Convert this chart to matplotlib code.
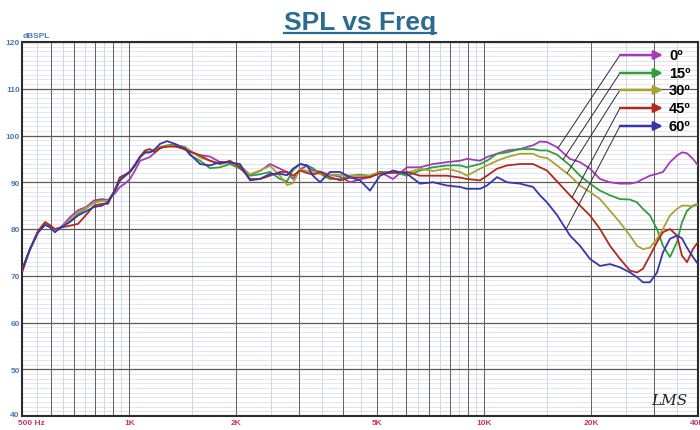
import numpy as np
import matplotlib
matplotlib.use("Agg")
import matplotlib.pyplot as plt
import matplotlib.transforms as mtransforms
from matplotlib.lines import Line2D
from matplotlib.ticker import FixedLocator, NullLocator, FixedFormatter

# ── data ───────────────────────────────────────────────────────────────────
FREQ = [500, 525, 553, 579, 598, 617, 646, 680, 717, 755,
        795, 837, 871, 911, 941, 972, 1004, 1037, 1072, 1107,
        1143, 1181, 1220, 1277, 1345, 1435, 1482, 1582, 1688, 1801,
        1921, 2050, 2187, 2334, 2490, 2657, 2781, 2891, 3026, 3166,
        3292, 3445, 3675, 3922, 4184, 4465, 4764, 5084, 5531, 6057,
        6590, 7170, 7851, 8541, 8938, 9727, 10178, 10860, 11588, 12606,
        13715, 14352, 15019, 16025, 17435, 18605, 19850, 21185, 22605, 24120,
        25735, 26930, 27995, 29295, 30655, 31870, 33350, 34900, 36050, 37245,
        38720, 40000]

SPL_0 = [71.5, 75.7, 79.3, 81.0, 80.4, 79.6, 80.6, 82.5, 84.0, 84.7,
         86.1, 86.4, 86.2, 87.6, 89.0, 89.7, 90.7, 92.5, 94.6, 95.0,
         95.4, 96.4, 97.2, 97.8, 97.6, 97.4, 96.5, 95.8, 95.5, 94.3,
         94.4, 93.5, 91.6, 92.4, 93.9, 92.9, 92.2, 90.7, 92.8, 93.5,
         92.5, 92.3, 91.6, 91.2, 90.0, 90.6, 91.1, 92.2, 90.7, 93.2,
         93.2, 93.9, 94.3, 94.6, 95.0, 94.6, 95.4, 96.1, 96.8, 97.1,
         97.9, 98.7, 98.6, 97.5, 95.0, 94.3, 92.9, 90.7, 90.0, 89.7,
         89.7, 90.0, 90.7, 91.4, 91.8, 92.2, 94.3, 95.7, 96.4, 96.2,
         95.0, 93.6]

SPL_15 = [71.5, 75.7, 79.3, 81.0, 80.4, 79.5, 80.5, 81.8, 83.2, 84.4,
          85.7, 86.1, 86.1, 88.2, 90.6, 91.4, 92.2, 93.6, 95.4, 96.4,
          96.4, 96.9, 97.5, 97.9, 98.1, 97.3, 95.8, 94.6, 93.0, 93.2,
          93.9, 92.9, 91.4, 91.7, 92.2, 90.7, 90.2, 92.6, 93.9, 93.6,
          93.0, 91.8, 90.7, 90.7, 91.4, 91.6, 91.4, 92.2, 92.2, 91.4,
          92.5, 93.2, 93.6, 93.6, 93.2, 93.9, 94.6, 96.1, 96.4, 97.1,
          97.1, 96.8, 96.8, 95.9, 93.6, 91.4, 89.7, 88.2, 87.2, 86.4,
          86.3, 85.7, 84.3, 82.9, 80.0, 76.4, 74.0, 77.2, 81.4, 83.9,
          85.0, 85.4]

SPL_30 = [71.5, 75.7, 79.3, 81.0, 80.4, 79.5, 80.4, 82.0, 83.5, 84.5,
          85.6, 86.0, 86.0, 88.0, 90.5, 91.3, 92.2, 93.5, 95.3, 96.3,
          96.5, 96.8, 97.5, 97.7, 97.9, 97.6, 96.8, 95.3, 94.6, 94.0,
          94.3, 93.4, 91.7, 92.5, 93.5, 91.4, 89.4, 89.8, 92.8, 92.4,
          92.0, 91.8, 91.6, 91.6, 91.4, 91.4, 91.4, 92.0, 92.2, 92.0,
          92.9, 92.4, 92.9, 92.2, 91.4, 92.9, 93.6, 94.6, 95.4, 96.1,
          96.1, 95.4, 95.2, 93.6, 91.4, 89.3, 87.9, 86.4, 83.9, 81.4,
          78.6, 76.4, 75.7, 76.0, 77.9, 80.0, 82.9, 84.3, 85.0, 85.0,
          84.8, 85.2]

SPL_45 = [71.0, 75.7, 79.6, 81.5, 80.8, 80.0, 80.4, 80.7, 81.1, 83.0,
          85.0, 85.4, 85.4, 88.5, 91.1, 91.6, 92.3, 93.8, 95.5, 96.8,
          97.1, 96.4, 97.4, 97.6, 97.7, 97.0, 96.6, 95.7, 94.6, 93.9,
          94.6, 93.2, 90.7, 90.7, 91.4, 92.2, 92.2, 91.4, 92.5, 92.0,
          91.6, 92.2, 91.1, 90.4, 91.0, 91.0, 91.1, 91.9, 92.0, 92.2,
          91.4, 91.4, 91.4, 91.0, 90.7, 90.4, 91.4, 92.9, 93.6, 93.9,
          93.9, 93.2, 92.5, 90.2, 87.2, 85.0, 82.9, 80.0, 76.4, 73.6,
          71.1, 70.7, 71.5, 74.3, 77.2, 79.3, 80.0, 78.6, 74.3, 72.9,
          75.7, 77.2]

SPL_60 = [71.5, 75.7, 79.3, 80.9, 80.4, 79.3, 80.5, 81.5, 82.9, 83.8,
          84.7, 85.0, 85.8, 88.2, 90.4, 91.4, 92.2, 93.6, 95.4, 96.4,
          96.4, 97.1, 98.2, 98.8, 98.2, 97.2, 96.0, 93.9, 93.6, 94.3,
          94.2, 93.9, 90.4, 90.7, 91.8, 91.8, 91.5, 92.9, 93.9, 93.6,
          91.4, 90.0, 92.2, 92.2, 91.1, 90.4, 88.2, 91.4, 92.5, 91.8,
          89.7, 90.0, 89.3, 89.0, 88.6, 88.6, 89.3, 91.1, 90.0, 89.7,
          89.0, 87.2, 85.7, 83.0, 78.6, 76.4, 73.6, 72.1, 72.5, 71.8,
          70.7, 69.7, 68.6, 68.6, 70.7, 75.0, 77.9, 78.6, 78.0, 76.0,
          74.0, 72.5]

LABELS = ["0º", "15º", "30º", "45º", "60º"]
CURVES = [SPL_0, SPL_15, SPL_30, SPL_45, SPL_60]
COLORS = ["#a23cb8", "#2f9e3e", "#a6a432", "#b02a1c", "#3836ac"]
# where each pointer line touches its curve (Hz)
POINT_AT = [16130, 16665, 17100, 17665, 16990]

X_TICKS = [500, 1000, 2000, 5000, 10000, 20000, 40000]
X_TICKLABELS = ["500 Hz", "1K", "2K", "5K", "10K", "20K", "40K"]
Y_TICKS = [40, 50, 60, 70, 80, 90, 100, 110, 120]

# ── figure ───────────────────────────────────────────────────────────────────
fig = plt.figure(figsize=(7.0, 4.31), dpi=100)
fig.patch.set_facecolor("white")
ax = fig.add_axes([22.5 / 700, 14 / 431, 675.5 / 700, 374 / 431])
ax.set_xscale("log")
ax.set_xlim(500, 40000)
ax.set_ylim(40, 120)

# grid: dB lines (light every dB, dark every 10)
for db in range(41, 120):
    if db % 10 == 0:
        continue
    ax.axhline(db, color="#d3e2ef" if db % 2 == 0 else "#f1dde0", lw=0.6, zorder=0)
for db in Y_TICKS:
    ax.axhline(db, color="#5a5a5a", lw=0.9, zorder=1)

# grid: frequency lines
light_f = ([550 + 100 * i for i in range(5)] + [1500, 2500, 3500, 4500]
           + [5500 + 1000 * i for i in range(5)] + [15000, 25000, 35000])
dark_f = [600, 700, 800, 900, 3000, 4000, 6000, 7000, 8000, 9000, 30000,
          1000, 2000, 5000, 10000, 20000]
for f in light_f:
    ax.axvline(f, color="#c6dbeb", lw=0.7, zorder=0)
for f in dark_f:
    ax.axvline(f, color="#666666", lw=0.75, zorder=1)

# curves
for spl, c in zip(CURVES, COLORS):
    ax.plot(FREQ, spl, color=c, lw=1.3, zorder=3, solid_joinstyle="round")

# legend arrows + pointer lines
tail_x, head_x, text_x = 0.8845, 0.948, 0.957
rows_y = [0.9652, 0.9171, 0.8717, 0.8235, 0.7754]
logf = np.log10(FREQ)
for lab, spl, c, f_at, yy in zip(LABELS, CURVES, COLORS, POINT_AT, rows_y):
    db_at = np.interp(np.log10(f_at), logf, spl)
    ax.annotate("", xy=(f_at, db_at), xycoords="data",
                xytext=(tail_x, yy), textcoords="axes fraction",
                arrowprops=dict(arrowstyle="-", color="#2a2a2a", lw=0.7,
                                shrinkA=0, shrinkB=0), zorder=4)
    ax.annotate("", xy=(head_x, yy), xycoords="axes fraction",
                xytext=(tail_x, yy), textcoords="axes fraction",
                arrowprops=dict(arrowstyle="-|>", color=c, lw=1.8,
                                mutation_scale=13, shrinkA=0, shrinkB=0),
                zorder=5)
    ax.text(text_x, yy, lab, transform=ax.transAxes, fontsize=10.5,
            fontweight="bold", va="center", ha="left", color="black",
            family="Liberation Sans", zorder=6)

# ticks
ax.xaxis.set_major_locator(FixedLocator(X_TICKS))
ax.xaxis.set_major_formatter(FixedFormatter(X_TICKLABELS))
ax.xaxis.set_minor_locator(NullLocator())
ax.set_yticks(Y_TICKS)
ax.tick_params(axis="x", length=0, pad=2.5, labelsize=6, labelcolor="#cc3366")
ax.tick_params(axis="y", length=0, pad=2, labelsize=6, labelcolor="#4f78b6")
for lbl in ax.get_xticklabels() + ax.get_yticklabels():
    lbl.set_fontweight("bold")
    lbl.set_family("Liberation Sans")
first = ax.get_xticklabels()[0]
first.set_ha("left")
first.set_transform(first.get_transform()
                    + mtransforms.ScaledTranslation(-3 / 72, 0, fig.dpi_scale_trans))
# lift the bottom dB label a touch so it clears "500 Hz"
bottom = ax.get_yticklabels()[0]
bottom.set_transform(bottom.get_transform()
                     + mtransforms.ScaledTranslation(0, 2 / 72, fig.dpi_scale_trans))

for sp in ax.spines.values():
    sp.set_color("#2c2c2c")
    sp.set_linewidth(1.5)

ax.text(0.0, 1.008, "dBSPL", transform=ax.transAxes, fontsize=6,
        fontweight="bold", color="#4f78b6", ha="left", va="bottom",
        family="Liberation Sans")
ax.text(0.985, 0.025, "LMS", transform=ax.transAxes, fontsize=11,
        style="italic", family="DejaVu Serif", color="#222222",
        ha="right", va="bottom", zorder=6)

# title with underline
title = fig.text(0.514, 1 - 30 / 431, "SPL vs Freq", ha="center", va="baseline",
                 fontsize=19, fontweight="bold", color="#2b6b8f",
                 family="Liberation Sans")
fig.canvas.draw()
bb = title.get_window_extent().transformed(fig.transFigure.inverted())
fig.add_artist(Line2D([bb.x0, bb.x1], [1 - 33.5 / 431] * 2,
                      transform=fig.transFigure, color="#2b6b8f", lw=1.6))

fig.savefig("out.png", dpi=100)
